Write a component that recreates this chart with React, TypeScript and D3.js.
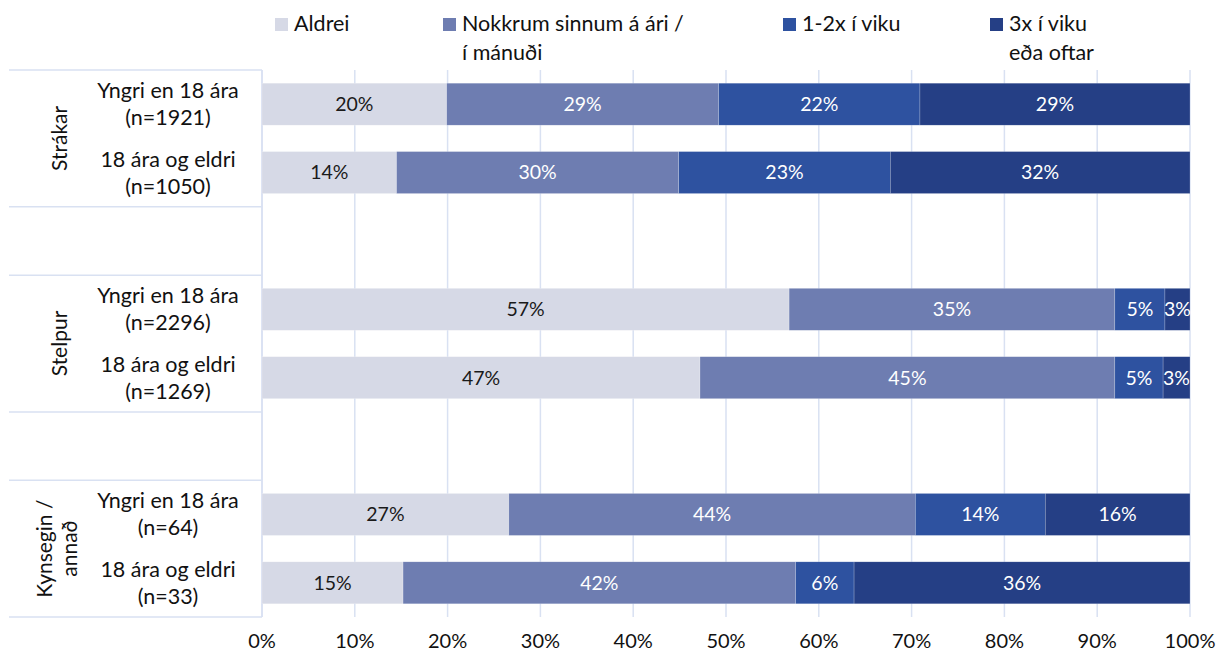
import React from "react";
import * as d3 from "d3";

const seriesNames = ["Aldrei", "Nokkrum sinnum á ári / í mánuði", "1-2x í viku", "3x í viku eða oftar"];
const legendLines = [["Aldrei"], ["Nokkrum sinnum á ári /", "í mánuði"], ["1-2x í viku"], ["3x í viku", "eða oftar"]];
const colors = ["#d6d9e6", "#6e7db1", "#2e52a0", "#253f85"];
const labelColors = ["#1a1a1a", "#ffffff", "#ffffff", "#ffffff"];

const rowLabels = [
  ["Yngri en 18 ára", "(n=1921)"],
  ["18 ára og eldri", "(n=1050)"],
  null,
  ["Yngri en 18 ára", "(n=2296)"],
  ["18 ára og eldri", "(n=1269)"],
  null,
  ["Yngri en 18 ára", "(n=64)"],
  ["18 ára og eldri", "(n=33)"],
];
// values per row (percent), null for spacer rows
const aldrei = [19.9, 14.5, null, 56.8, 47.2, null, 26.6, 15.2];
const nokkrum = [29.3, 30.4, null, 35.1, 44.7, null, 43.8, 42.3];
const vika12 = [21.7, 22.8, null, 5.4, 5.2, null, 14.0, 6.3];
const vika3 = [29.1, 32.3, null, 2.7, 2.9, null, 15.6, 36.2];
const shownLabels = [
  ["20%", "29%", "22%", "29%"],
  ["14%", "30%", "23%", "32%"],
  null,
  ["57%", "35%", "5%", "3%"],
  ["47%", "45%", "5%", "3%"],
  null,
  ["27%", "44%", "14%", "16%"],
  ["15%", "42%", "6%", "36%"],
];
const groups = [
  { lines: ["Strákar"], from: 0, to: 1 },
  { lines: ["Stelpur"], from: 3, to: 4 },
  { lines: ["Kynsegin /", "annað"], from: 6, to: 7 },
];
const ticks = [0, 10, 20, 30, 40, 50, 60, 70, 80, 90, 100];

const FONT = "Lato, 'Open Sans', sans-serif";

export default function App() {
  const W = 1219, H = 656;
  const x = d3.scaleLinear().domain([0, 100]).range([262, 1190]);
  const slots = d3.range(8).map(String);
  const y = d3.scaleBand().domain(slots).range([70, 617]).paddingInner(0.386).paddingOuter(0.193);
  const step = y.step();
  const series = [aldrei, nokkrum, vika12, vika3];
  const legendX = [275, 443, 783, 990];
  const sepYs = [70, 70 + 2 * step, 70 + 3 * step, 70 + 5 * step, 70 + 6 * step, 617];

  return (
    <svg width={W} height={H} style={{ position: "absolute", left: 0, top: 0, fontFamily: FONT }}>
      <rect x={0} y={0} width={W} height={H} fill="#fff" />
      {/* gridlines */}
      {ticks.map((t) => (
        <line key={t} x1={x(t)} x2={x(t)} y1={70} y2={617} stroke="#d9e1f2" strokeWidth={1.5} />
      ))}
      {/* left separators */}
      {sepYs.map((sy, i) => (
        <line key={i} x1={9} x2={262} y1={sy} y2={sy} stroke="#d9e1f2" strokeWidth={1.5} />
      ))}
      <line x1={262} x2={262} y1={70} y2={617} stroke="#d9e1f2" strokeWidth={1.5} />
      {/* bars */}
      {slots.map((s, r) => {
        if (aldrei[r] == null) return null;
        let acc = 0;
        return (
          <g key={s}>
            {series.map((ser, k) => {
              const v = ser[r] as number;
              const x0 = x(acc);
              acc += v;
              const x1 = x(acc);
              const yy = y(s) as number;
              return (
                <g key={k}>
                  <rect x={x0} y={yy} width={x1 - x0} height={y.bandwidth()} fill={colors[k]} stroke="#ffffff" strokeWidth={0.5} strokeOpacity={0.4} />
                  <text x={(x0 + x1) / 2} y={yy + y.bandwidth() / 2} dy="0.35em" textAnchor="middle" fontSize={19.5} fill={labelColors[k]}>
                    {shownLabels[r]![k]}
                  </text>
                </g>
              );
            })}
          </g>
        );
      })}
      {/* row labels */}
      {rowLabels.map((lab, r) => {
        if (!lab) return null;
        const cy = (y(String(r)) as number) + y.bandwidth() / 2;
        return (
          <text key={r} textAnchor="middle" fontSize={21.5} fill="#111">
            {lab.map((l, i) => (
              <tspan key={i} x={168} y={cy + (i - 0.5) * 27} dy="0.35em">{l}</tspan>
            ))}
          </text>
        );
      })}
      {/* group labels */}
      {groups.map((g, i) => {
        const cy = ((y(String(g.from)) as number) + (y(String(g.to)) as number) + y.bandwidth()) / 2;
        const n = g.lines.length;
        return (
          <text key={i} transform={`translate(${n === 1 ? 60 : 57},${cy}) rotate(-90)`} textAnchor="middle" fontSize={21} fill="#111">
            {g.lines.map((l, j) => (
              <tspan key={j} x={0} y={(j - (n - 1) / 2) * 25} dy="0.35em">{l}</tspan>
            ))}
          </text>
        );
      })}
      {/* x axis ticks */}
      {ticks.map((t) => (
        <text key={t} x={x(t)} y={641} dy="0.35em" textAnchor="middle" fontSize={20} fill="#111">{t}%</text>
      ))}
      {/* legend */}
      {seriesNames.map((nm, k) => (
        <g key={nm}>
          <rect x={legendX[k]} y={18} width={13} height={13} fill={colors[k]} />
          <text fontSize={21.5} fill="#111">
            {legendLines[k].map((l, j) => (
              <tspan key={j} x={legendX[k] + 19} y={31 + j * 29}>{l}</tspan>
            ))}
          </text>
        </g>
      ))}
    </svg>
  );
}
